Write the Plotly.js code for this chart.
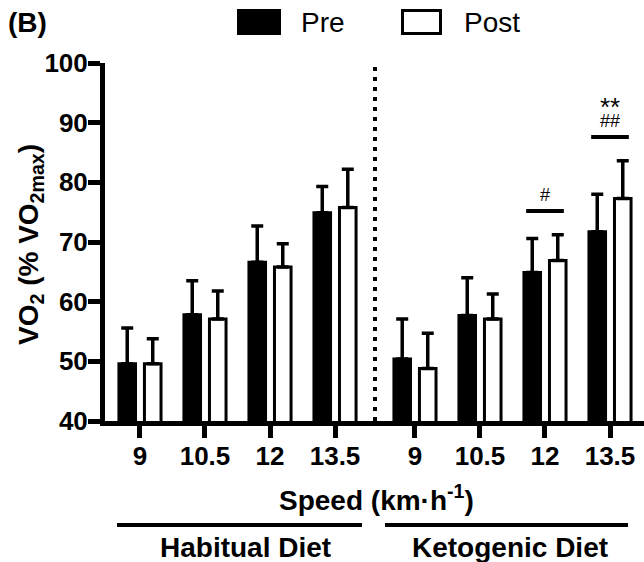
<!DOCTYPE html>
<html><head><meta charset="utf-8">
<script src="https://cdn.plot.ly/plotly-3.0.1.min.js"></script>
<style>html,body{margin:0;padding:0;background:#fff}</style>
</head><body>
<div id="chart" style="width:644px;height:562px"></div>
<script>
// ---- data ----
const speeds = ['9', '10.5', '12', '13.5'];
const dietLabels = ['Habitual Diet', 'Ketogenic Diet'];
const seriesNames = ['Pre', 'Post'];
const habitualPre = [49.6, 57.8, 66.6, 74.9];
const habitualPreSD = [6.0, 5.7, 6.1, 4.4];
const habitualPost = [49.6, 57.1, 65.8, 75.8];
const habitualPostSD = [4.2, 4.7, 3.9, 6.4];
const ketoPre = [50.4, 57.7, 64.9, 71.7];
const ketoPreSD = [6.7, 6.3, 5.7, 6.3];
const ketoPost = [48.8, 57.1, 66.9, 77.3];
const ketoPostSD = [5.9, 4.2, 4.3, 6.3];
const yTicks = [40, 50, 60, 70, 80, 90, 100];
const sigSpeeds = ['12', '13.5'];
const sigBarY = [75.2, 87.6];
const sigText = [['#'], ['##', '**']];
const sigTextY = [[77.8], [90.2, 92.7]];
const sigTextSize = [[18], [18, 26]];

// ---- styling ----
const W = 644, H = 562;
const M = {l: 105, r: 0, t: 63, b: 141};
const plotW = W - M.l - M.r, plotH = H - M.t - M.b;
const split = 270 / plotW;
const FONT = 'Arial, "Liberation Sans", sans-serif';
const px = x => (x - M.l) / plotW;
const py = y => (H - M.b - y) / plotH;

function barTrace(name, y, sd, xaxis, fill) {
  return {
    type: 'bar', name: name, x: speeds, y: y, xaxis: xaxis, yaxis: 'y',
    marker: {color: fill, line: {color: '#000', width: 3}},
    error_y: {type: 'data', symmetric: false, array: sd, arrayminus: sd.map(() => 0),
              color: '#000', thickness: 3.5, width: 6},
    hoverinfo: 'skip'
  };
}

const data = [
  barTrace(seriesNames[0], habitualPre, habitualPreSD, 'x', '#000'),
  barTrace(seriesNames[1], habitualPost, habitualPostSD, 'x', '#fff'),
  barTrace(seriesNames[0], ketoPre, ketoPreSD, 'x2', '#000'),
  barTrace(seriesNames[1], ketoPost, ketoPostSD, 'x2', '#fff')
];

const xCommon = {
  type: 'category', showline: true, linewidth: 5, linecolor: '#000',
  ticks: 'outside', ticklen: 12, tickwidth: 5, tickcolor: '#000',
  ticklabelstandoff: -4,
  tickfont: {size: 26, weight: 'bold', family: FONT, color: '#000'},
  showgrid: false, zeroline: false, fixedrange: true, anchor: 'y'
};

const shapes = [];
const annotations = [];

// divider
shapes.push({type: 'line', xref: 'paper', yref: 'y', x0: split, x1: split, y0: 40, y1: 100,
  line: {color: '#000', width: 4, dash: '4px,6px'}});

// significance brackets
sigSpeeds.forEach((s, i) => {
  const idx = speeds.indexOf(s);
  shapes.push({type: 'line', xref: 'x2', yref: 'y', x0: idx - 0.29, x1: idx + 0.29,
    y0: sigBarY[i], y1: sigBarY[i], line: {color: '#000', width: 4}});
  sigText[i].forEach((t, j) => {
    annotations.push({xref: 'x2', yref: 'y', x: idx, y: sigTextY[i][j], text: t,
      showarrow: false, xanchor: 'center', yanchor: 'middle',
      font: {size: sigTextSize[i][j], family: FONT, color: '#000'}});
  });
});

// group lines and labels
shapes.push({type: 'line', xref: 'paper', yref: 'paper', x0: px(117), x1: px(362), y0: py(525), y1: py(525), line: {color: '#000', width: 4}});
shapes.push({type: 'line', xref: 'paper', yref: 'paper', x0: px(385), x1: px(628), y0: py(525), y1: py(525), line: {color: '#000', width: 4}});
annotations.push({xref: 'paper', yref: 'paper', x: px(245.5), y: py(547), text: dietLabels[0], showarrow: false,
  xanchor: 'center', yanchor: 'middle', font: {size: 28, weight: 'bold', family: FONT, color: '#000'}});
annotations.push({xref: 'paper', yref: 'paper', x: px(510), y: py(547), text: dietLabels[1], showarrow: false,
  xanchor: 'center', yanchor: 'middle', font: {size: 28, weight: 'bold', family: FONT, color: '#000'}});

// axis titles
annotations.push({xref: 'paper', yref: 'paper', x: px(376), y: py(498), text: 'Speed (km·h<sup>-1</sup>)', showarrow: false,
  xanchor: 'center', yanchor: 'middle', font: {size: 28, weight: 'bold', family: FONT, color: '#000'}});
annotations.push({xref: 'paper', yref: 'paper', x: px(30), y: py(245), text: 'VO<sub>2</sub> (% VO<sub>2max</sub>)', showarrow: false,
  textangle: -90, xanchor: 'center', yanchor: 'middle', font: {size: 28, weight: 'bold', family: FONT, color: '#000'}});

// panel label
annotations.push({xref: 'paper', yref: 'paper', x: px(6), y: py(22), text: '(B)', showarrow: false,
  xanchor: 'left', yanchor: 'middle', font: {size: 28, weight: 'bold', family: FONT, color: '#000'}});

// legend
shapes.push({type: 'rect', xref: 'paper', yref: 'paper', x0: px(237), x1: px(281), y0: py(35), y1: py(9),
  fillcolor: '#000', line: {width: 0}});
shapes.push({type: 'rect', xref: 'paper', yref: 'paper', x0: px(402.5), x1: px(440.5), y0: py(33.5), y1: py(10.5),
  fillcolor: '#fff', line: {color: '#000', width: 3}});
annotations.push({xref: 'paper', yref: 'paper', x: px(299), y: py(22), text: seriesNames[0], showarrow: false,
  xanchor: 'left', yanchor: 'middle', font: {size: 28, family: FONT, color: '#000'}});
annotations.push({xref: 'paper', yref: 'paper', x: px(462), y: py(22), text: seriesNames[1], showarrow: false,
  xanchor: 'left', yanchor: 'middle', font: {size: 28, family: FONT, color: '#000'}});

const layout = {
  width: W, height: H,
  margin: {l: M.l, r: M.r, t: M.t, b: M.b, pad: 0},
  paper_bgcolor: '#fff', plot_bgcolor: 'rgba(0,0,0,0)',
  showlegend: false,
  barmode: 'group', bargap: 0.215, bargroupgap: 0.35,
  font: {family: FONT, color: '#000'},
  xaxis: Object.assign({}, xCommon, {domain: [0, split], range: [-0.538, 3.615]}),
  xaxis2: Object.assign({}, xCommon, {domain: [split, 1], range: [-0.615, 3.523]}),
  yaxis: {
    range: [40, 100], tickvals: yTicks, showline: true, linewidth: 5, linecolor: '#000',
    ticks: 'outside', ticklen: 12, tickwidth: 5, tickcolor: '#000',
    ticklabelstandoff: -5,
    tickfont: {size: 26, weight: 'bold', family: FONT, color: '#000'},
    showgrid: false, zeroline: false, fixedrange: true
  },
  shapes: shapes,
  annotations: annotations
};

Plotly.newPlot('chart', data, layout, {displayModeBar: false, staticPlot: true});
</script>
</body></html>
